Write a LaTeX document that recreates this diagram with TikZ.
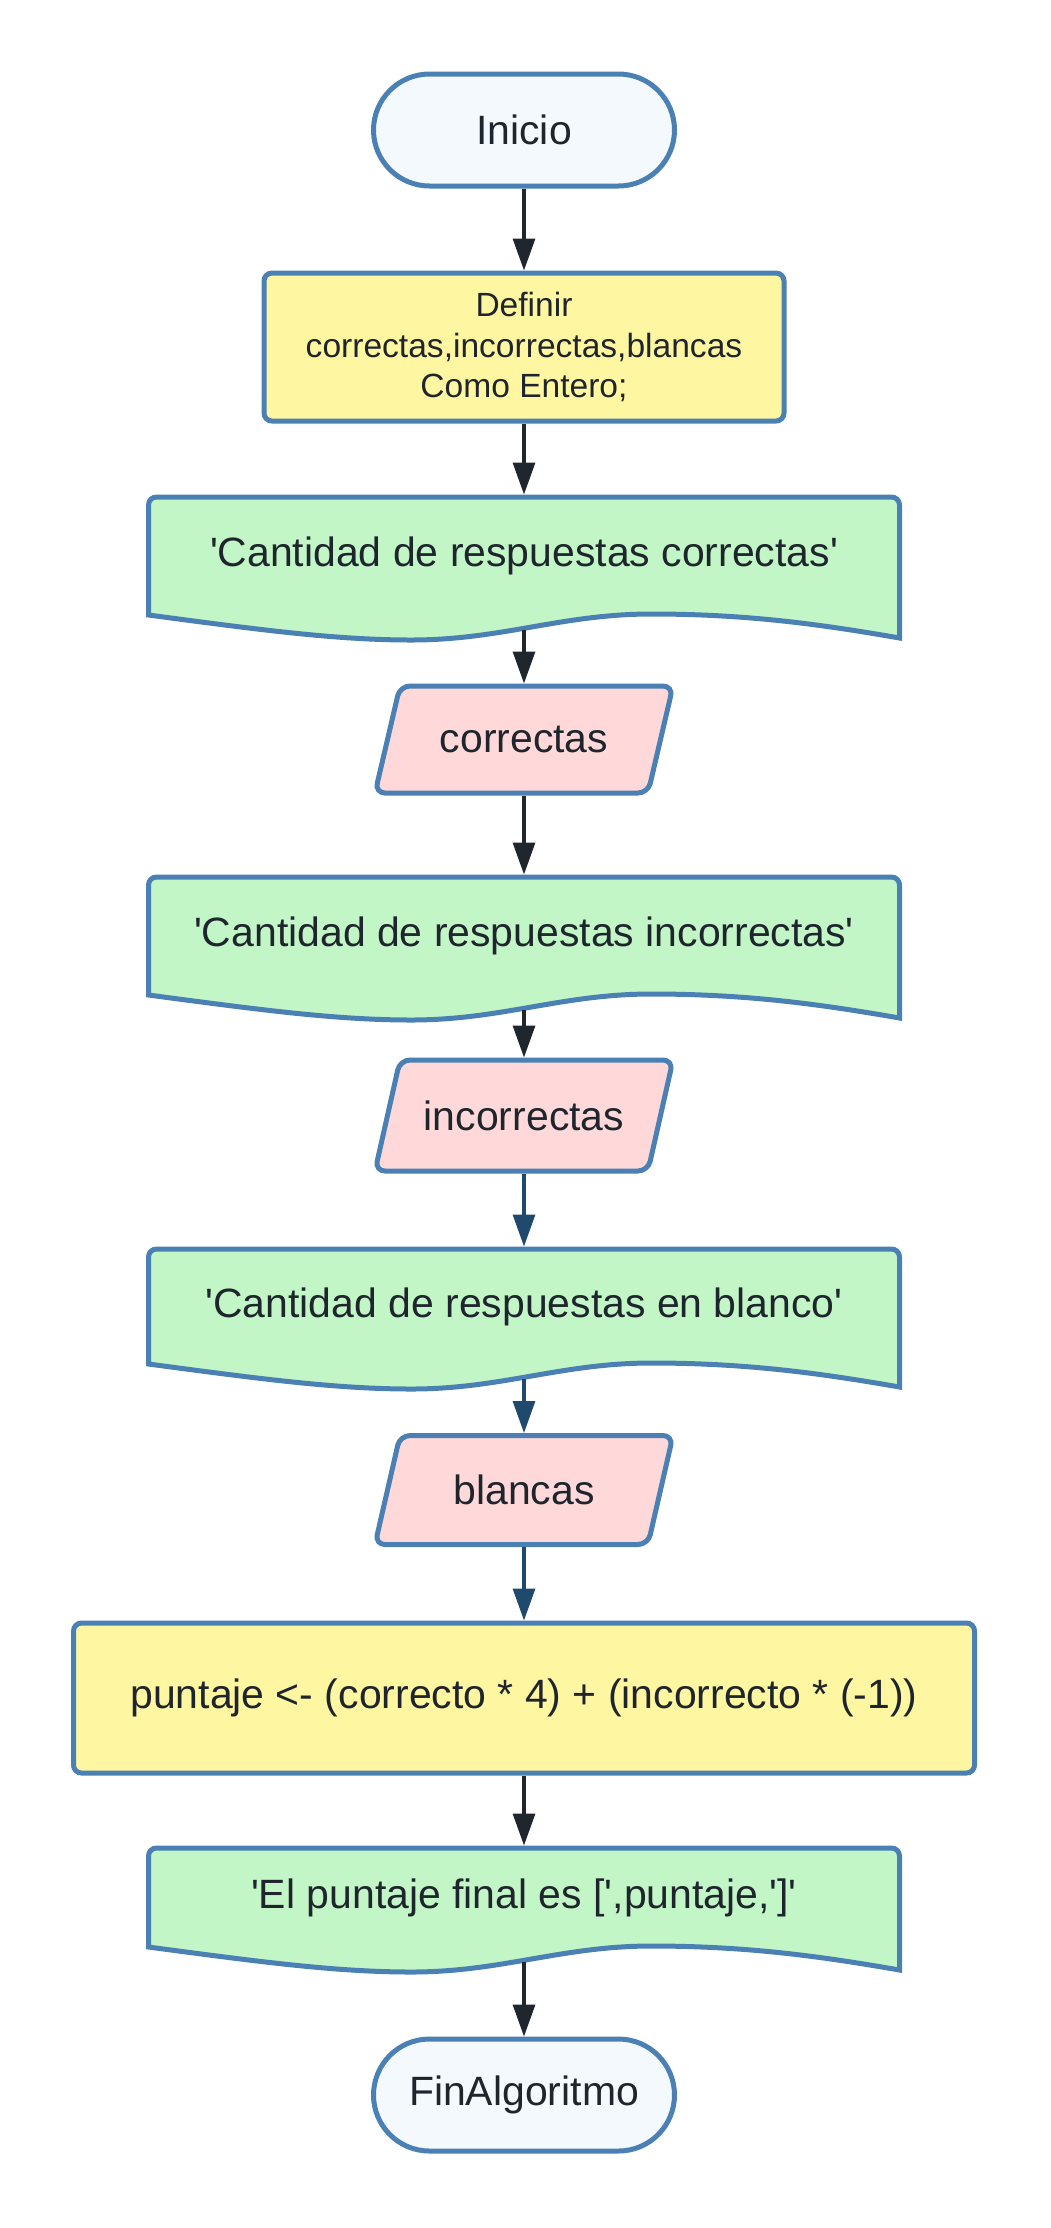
\documentclass[tikz,border=0pt]{standalone}
\usepackage{fontspec}
\setmainfont{Liberation Sans}
\usepackage{xcolor}
\usepackage{tikz}
\usetikzlibrary{positioning,arrows.meta,backgrounds}

\definecolor{edgeblue}{HTML}{4A80B4}
\definecolor{termfill}{HTML}{F4F9FE}
\definecolor{procfill}{HTML}{FFF6A1}
\definecolor{docfill}{HTML}{C3F6C7}
\definecolor{iofill}{HTML}{FFD9D9}
\definecolor{ink}{HTML}{1E252C}
\definecolor{darkarrow}{HTML}{1F262D}
\definecolor{bluearrow}{HTML}{1F4A6E}

\begin{document}
\begin{tikzpicture}[>={Triangle[length=0.64cm,width=0.44cm]}]
    \tikzset{
        txt/.style={font=\fontsize{23.3}{28}\selectfont, text=ink, align=center},
        terminal/.style={txt, draw=edgeblue, line width=0.1cm, fill=termfill, rounded corners=1.12cm, minimum width=6.02cm, minimum height=2.24cm},
        process/.style={txt, draw=edgeblue, line width=0.1cm, fill=procfill, rounded corners=0.16cm},
        io/.style={txt, inner sep=0pt, outer sep=0pt, minimum width=5.96cm},
        doc/.style={txt, inner sep=0pt, outer sep=0pt, minimum width=15.02cm},
        docline/.style={draw=edgeblue, line width=0.1cm, fill=docfill},
        ioline/.style={draw=edgeblue, line width=0.1cm, fill=iofill, rounded corners=0.2cm},
        flow/.style={->, color=darkarrow, line width=0.065cm},
        flowb/.style={flow, color=bluearrow}
    }
    \useasboundingbox (0,0) rectangle (21,-44.56);

    \node[terminal] (ini) at (10.48,-2.60) {Inicio};
    \node[process, minimum width=10.4cm, minimum height=2.96cm, font=\fontsize{19.1}{22.8}\selectfont] (def) at (10.48,-6.94) {Definir\\correctas,incorrectas,blancas\\Como Entero;};
    \node[doc, minimum height=2.36cm] (d1) at (10.48,-11.12) {\textquotesingle Cantidad de respuestas correctas\textquotesingle};
    \node[io, minimum height=2.14cm] (cor) at (10.48,-14.79) {correctas};
    \node[doc, minimum height=2.36cm] (d2) at (10.48,-18.72) {\textquotesingle Cantidad de respuestas incorrectas\textquotesingle};
    \node[io, minimum height=2.22cm] (inc) at (10.48,-22.31) {incorrectas};
    \node[doc, minimum height=2.30cm] (d3) at (10.48,-26.13) {\textquotesingle Cantidad de respuestas en blanco\textquotesingle};
    \node[io, minimum height=2.18cm] (bla) at (10.48,-29.80) {blancas};
    \node[process, minimum width=18.02cm, minimum height=3.0cm] (pun) at (10.48,-33.96) {puntaje <- (correcto * 4) + (incorrecto * (-1))};
    \node[doc, minimum height=1.98cm] (d4) at (10.48,-37.95) {\textquotesingle El puntaje final es [\textquotesingle,puntaje,\textquotesingle]\textquotesingle};
    \node[terminal] (fin) at (10.48,-41.90) {FinAlgoritmo};

    % document and input shapes behind their text
    \begin{scope}[on background layer]
        \foreach \d/\h in {d1/2.36, d2/2.36, d3/2.30, d4/1.98} {
            \filldraw[docline, shift={(\d.south west)}] (0,0)
                .. controls (2.25,-0.3) and (3.76,-0.5) .. (5.26,-0.5)
                .. controls (7.06,-0.5) and (8.26,0.02) .. (10.06,0.02)
                .. controls (12.02,0.02) and (13.52,-0.2) .. (15.02,-0.46)
                -- (15.02,{\h-0.16}) arc[start angle=0, end angle=90, radius=0.16]
                -- (0.16,\h) arc[start angle=90, end angle=180, radius=0.16] -- cycle;
        }
        \foreach \p/\h in {cor/2.14, inc/2.22, bla/2.18} {
            \filldraw[ioline, shift={(\p.south west)}] (0,0) -- (5.46,0) -- (5.96,\h) -- (0.5,\h) -- cycle;
        }
    \end{scope}

    \draw[flow] (ini) -- (def);
    \draw[flow] (def) -- ([yshift=0.05cm]d1.north);
    \draw[flow] ([yshift=-0.29cm]d1.south) -- ([yshift=0.05cm]cor.north);
    \draw[flow] ([yshift=-0.05cm]cor.south) -- ([yshift=0.05cm]d2.north);
    \draw[flow] ([yshift=-0.29cm]d2.south) -- ([yshift=0.05cm]inc.north);
    \draw[flowb] ([yshift=-0.05cm]inc.south) -- ([yshift=0.05cm]d3.north);
    \draw[flowb] ([yshift=-0.29cm]d3.south) -- ([yshift=0.05cm]bla.north);
    \draw[flowb] ([yshift=-0.05cm]bla.south) -- (pun);
    \draw[flow] (pun) -- ([yshift=0.05cm]d4.north);
    \draw[flow] ([yshift=-0.29cm]d4.south) -- (fin);
\end{tikzpicture}
\end{document}
